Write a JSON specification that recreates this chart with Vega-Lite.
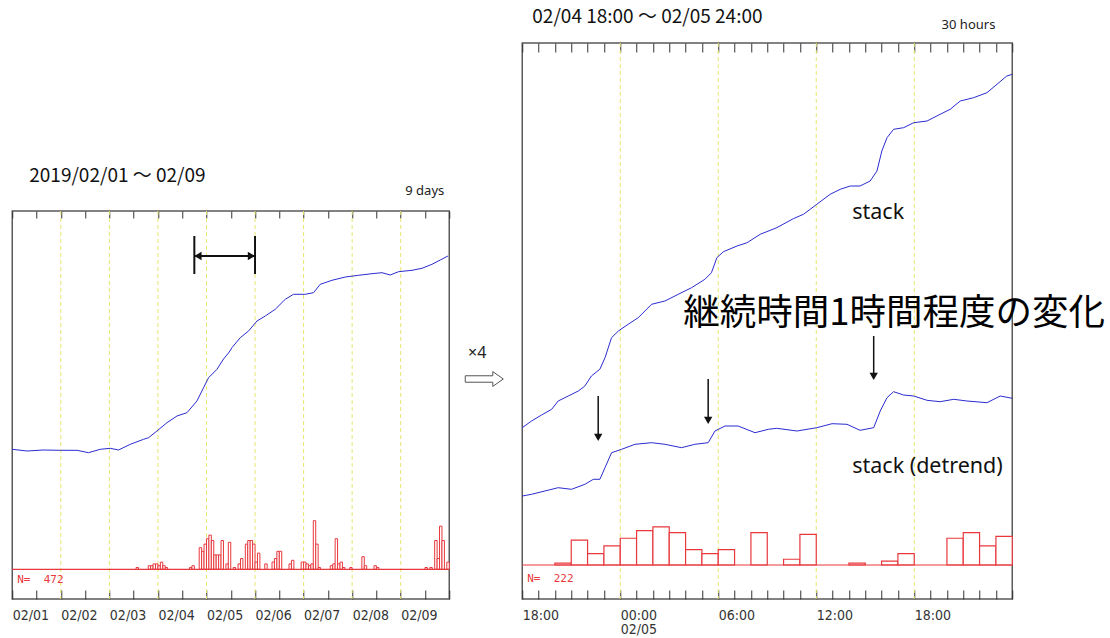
{
  "$schema": "https://vega.github.io/schema/vega-lite/v6.json",
  "background": "white",
  "padding": {"left": 9.25, "top": 7, "right": 0, "bottom": 0},
  "spacing": 13,
  "config": {
    "view": {"stroke": "#5a5a5a", "strokeWidth": 1.5}
  },
  "datasets": {
    "leftStack": [
      {"t": "2019-02-01T00:00", "v": 149.7}, {"t": "2019-02-01T07:16", "v": 148}, {"t": "2019-02-01T15:19", "v": 149},
      {"t": "2019-02-01T23:44", "v": 148.7}, {"t": "2019-02-02T07:59", "v": 148.7}, {"t": "2019-02-02T13:43", "v": 146.3},
      {"t": "2019-02-02T19:30", "v": 149.7}, {"t": "2019-02-03T00:26", "v": 150.7}, {"t": "2019-02-03T04:32", "v": 149},
      {"t": "2019-02-03T10:20", "v": 154.7}, {"t": "2019-02-03T16:54", "v": 159.7}, {"t": "2019-02-03T19:22", "v": 161.3},
      {"t": "2019-02-03T23:31", "v": 168}, {"t": "2019-02-04T04:28", "v": 176.3}, {"t": "2019-02-04T09:25", "v": 183},
      {"t": "2019-02-04T14:21", "v": 186.3}, {"t": "2019-02-04T19:17", "v": 198}, {"t": "2019-02-04T22:34", "v": 211.3},
      {"t": "2019-02-05T01:02", "v": 221.3}, {"t": "2019-02-05T05:11", "v": 229.7}, {"t": "2019-02-05T08:26", "v": 240},
      {"t": "2019-02-05T11:16", "v": 247}, {"t": "2019-02-05T12:35", "v": 251.3}, {"t": "2019-02-05T16:42", "v": 261.3},
      {"t": "2019-02-05T20:48", "v": 268}, {"t": "2019-02-06T00:57", "v": 278}, {"t": "2019-02-06T05:03", "v": 283},
      {"t": "2019-02-06T09:59", "v": 289.7}, {"t": "2019-02-06T14:56", "v": 299.7}, {"t": "2019-02-06T19:02", "v": 304.7},
      {"t": "2019-02-07T00:49", "v": 304.7}, {"t": "2019-02-07T04:56", "v": 306.3}, {"t": "2019-02-07T08:14", "v": 314.7},
      {"t": "2019-02-07T14:01", "v": 318.7}, {"t": "2019-02-07T20:36", "v": 322}, {"t": "2019-02-08T03:10", "v": 323.7},
      {"t": "2019-02-08T09:47", "v": 325.3}, {"t": "2019-02-08T14:44", "v": 326.3}, {"t": "2019-02-08T18:50", "v": 324},
      {"t": "2019-02-08T22:56", "v": 327.3}, {"t": "2019-02-09T05:34", "v": 328.7}, {"t": "2019-02-09T10:31", "v": 330.7},
      {"t": "2019-02-09T15:27", "v": 334.7}, {"t": "2019-02-09T19:33", "v": 339}, {"t": "2019-02-09T23:22", "v": 343}
    ],
    "leftHist": [
      {"t": "2019-02-03T13:12", "t2": "2019-02-03T14:24", "count": 1},
      {"t": "2019-02-03T19:12", "t2": "2019-02-03T20:24", "count": 2},
      {"t": "2019-02-03T20:24", "t2": "2019-02-03T21:36", "count": 2},
      {"t": "2019-02-03T21:36", "t2": "2019-02-03T22:48", "count": 3},
      {"t": "2019-02-03T22:48", "t2": "2019-02-04T00:00", "count": 3},
      {"t": "2019-02-04T00:00", "t2": "2019-02-04T01:12", "count": 2},
      {"t": "2019-02-04T01:12", "t2": "2019-02-04T02:24", "count": 4},
      {"t": "2019-02-04T02:24", "t2": "2019-02-04T03:36", "count": 2},
      {"t": "2019-02-04T03:36", "t2": "2019-02-04T04:48", "count": 1},
      {"t": "2019-02-04T15:36", "t2": "2019-02-04T16:48", "count": 1},
      {"t": "2019-02-04T16:48", "t2": "2019-02-04T18:00", "count": 2},
      {"t": "2019-02-04T20:24", "t2": "2019-02-04T21:36", "count": 12},
      {"t": "2019-02-04T21:36", "t2": "2019-02-04T22:48", "count": 10},
      {"t": "2019-02-04T22:48", "t2": "2019-02-05T00:00", "count": 14},
      {"t": "2019-02-05T00:00", "t2": "2019-02-05T01:12", "count": 17},
      {"t": "2019-02-05T01:12", "t2": "2019-02-05T02:24", "count": 19},
      {"t": "2019-02-05T02:24", "t2": "2019-02-05T03:36", "count": 16},
      {"t": "2019-02-05T03:36", "t2": "2019-02-05T04:48", "count": 8},
      {"t": "2019-02-05T04:48", "t2": "2019-02-05T06:00", "count": 8},
      {"t": "2019-02-05T06:00", "t2": "2019-02-05T07:12", "count": 8},
      {"t": "2019-02-05T07:12", "t2": "2019-02-05T08:24", "count": 16},
      {"t": "2019-02-05T09:36", "t2": "2019-02-05T10:48", "count": 3},
      {"t": "2019-02-05T10:48", "t2": "2019-02-05T12:00", "count": 15},
      {"t": "2019-02-05T13:12", "t2": "2019-02-05T14:24", "count": 1},
      {"t": "2019-02-05T15:36", "t2": "2019-02-05T16:48", "count": 3},
      {"t": "2019-02-05T16:48", "t2": "2019-02-05T18:00", "count": 6},
      {"t": "2019-02-05T19:12", "t2": "2019-02-05T20:24", "count": 14},
      {"t": "2019-02-05T20:24", "t2": "2019-02-05T21:36", "count": 16},
      {"t": "2019-02-05T21:36", "t2": "2019-02-05T22:48", "count": 16},
      {"t": "2019-02-05T22:48", "t2": "2019-02-06T00:00", "count": 14},
      {"t": "2019-02-06T00:00", "t2": "2019-02-06T01:12", "count": 4},
      {"t": "2019-02-06T01:12", "t2": "2019-02-06T02:24", "count": 9},
      {"t": "2019-02-06T04:48", "t2": "2019-02-06T06:00", "count": 3},
      {"t": "2019-02-06T08:24", "t2": "2019-02-06T09:36", "count": 4},
      {"t": "2019-02-06T09:36", "t2": "2019-02-06T10:48", "count": 6},
      {"t": "2019-02-06T10:48", "t2": "2019-02-06T12:00", "count": 10},
      {"t": "2019-02-06T12:00", "t2": "2019-02-06T13:12", "count": 10},
      {"t": "2019-02-06T16:48", "t2": "2019-02-06T18:00", "count": 3},
      {"t": "2019-02-06T18:00", "t2": "2019-02-06T19:12", "count": 5},
      {"t": "2019-02-06T22:48", "t2": "2019-02-07T00:00", "count": 4},
      {"t": "2019-02-07T00:00", "t2": "2019-02-07T01:12", "count": 4},
      {"t": "2019-02-07T01:12", "t2": "2019-02-07T02:24", "count": 3},
      {"t": "2019-02-07T02:24", "t2": "2019-02-07T03:36", "count": 2},
      {"t": "2019-02-07T03:36", "t2": "2019-02-07T04:48", "count": 3},
      {"t": "2019-02-07T04:48", "t2": "2019-02-07T06:00", "count": 27},
      {"t": "2019-02-07T06:00", "t2": "2019-02-07T07:12", "count": 14},
      {"t": "2019-02-07T07:12", "t2": "2019-02-07T08:24", "count": 1},
      {"t": "2019-02-07T13:12", "t2": "2019-02-07T14:24", "count": 2},
      {"t": "2019-02-07T14:24", "t2": "2019-02-07T15:36", "count": 3},
      {"t": "2019-02-07T15:36", "t2": "2019-02-07T16:48", "count": 17},
      {"t": "2019-02-07T16:48", "t2": "2019-02-07T18:00", "count": 3},
      {"t": "2019-02-07T18:00", "t2": "2019-02-07T19:12", "count": 4},
      {"t": "2019-02-07T19:12", "t2": "2019-02-07T20:24", "count": 1},
      {"t": "2019-02-07T22:48", "t2": "2019-02-08T00:00", "count": 1},
      {"t": "2019-02-08T04:48", "t2": "2019-02-08T06:00", "count": 7},
      {"t": "2019-02-08T06:00", "t2": "2019-02-08T07:12", "count": 2},
      {"t": "2019-02-08T10:48", "t2": "2019-02-08T12:00", "count": 2},
      {"t": "2019-02-08T12:00", "t2": "2019-02-08T13:12", "count": 1},
      {"t": "2019-02-09T12:00", "t2": "2019-02-09T13:12", "count": 1},
      {"t": "2019-02-09T14:24", "t2": "2019-02-09T15:36", "count": 1},
      {"t": "2019-02-09T16:48", "t2": "2019-02-09T18:00", "count": 16},
      {"t": "2019-02-09T18:00", "t2": "2019-02-09T19:12", "count": 6},
      {"t": "2019-02-09T19:12", "t2": "2019-02-09T20:24", "count": 24},
      {"t": "2019-02-09T20:24", "t2": "2019-02-09T21:36", "count": 16},
      {"t": "2019-02-09T22:48", "t2": "2019-02-10T00:00", "count": 4}
    ],
    "leftDays": [
      {"t": "2019-02-02T00:00"}, {"t": "2019-02-03T00:00"}, {"t": "2019-02-04T00:00"}, {"t": "2019-02-05T00:00"},
      {"t": "2019-02-06T00:00"}, {"t": "2019-02-07T00:00"}, {"t": "2019-02-08T00:00"}, {"t": "2019-02-09T00:00"}
    ],
    "leftSegs": [
      {"t": "2019-02-04T18:00", "t2": "2019-02-04T18:00", "v": 325, "v2": 363},
      {"t": "2019-02-06T00:00", "t2": "2019-02-06T00:00", "v": 325, "v2": 363},
      {"t": "2019-02-04T18:00", "t2": "2019-02-06T00:00", "v": 343, "v2": 343}
    ],
    "leftHeads": [
      {"t": "2019-02-04T19:47", "v": 343, "dir": "left"},
      {"t": "2019-02-05T22:13", "v": 343, "dir": "right"}
    ],
    "rightStack": [
      {"series": "stack", "t": "2019-02-04T18:00", "v": 171.3}, {"series": "stack", "t": "2019-02-04T18:34", "v": 178},
      {"series": "stack", "t": "2019-02-04T19:11", "v": 184}, {"series": "stack", "t": "2019-02-04T19:48", "v": 189.7},
      {"series": "stack", "t": "2019-02-04T20:12", "v": 198}, {"series": "stack", "t": "2019-02-04T20:49", "v": 203},
      {"series": "stack", "t": "2019-02-04T21:26", "v": 208}, {"series": "stack", "t": "2019-02-04T21:50", "v": 213},
      {"series": "stack", "t": "2019-02-04T22:14", "v": 223}, {"series": "stack", "t": "2019-02-04T22:45", "v": 229.7},
      {"series": "stack", "t": "2019-02-04T23:04", "v": 241.3}, {"series": "stack", "t": "2019-02-04T23:28", "v": 261.3},
      {"series": "stack", "t": "2019-02-04T23:53", "v": 268}, {"series": "stack", "t": "2019-02-05T00:29", "v": 274.7},
      {"series": "stack", "t": "2019-02-05T01:06", "v": 281.3}, {"series": "stack", "t": "2019-02-05T01:55", "v": 294.7},
      {"series": "stack", "t": "2019-02-05T02:44", "v": 298}, {"series": "stack", "t": "2019-02-05T03:33", "v": 304.7},
      {"series": "stack", "t": "2019-02-05T04:22", "v": 311.3}, {"series": "stack", "t": "2019-02-05T05:11", "v": 319.7},
      {"series": "stack", "t": "2019-02-05T05:35", "v": 326.3}, {"series": "stack", "t": "2019-02-05T05:55", "v": 341.3},
      {"series": "stack", "t": "2019-02-05T06:19", "v": 347.3}, {"series": "stack", "t": "2019-02-05T07:09", "v": 353},
      {"series": "stack", "t": "2019-02-05T07:46", "v": 356.3}, {"series": "stack", "t": "2019-02-05T08:34", "v": 364.7},
      {"series": "stack", "t": "2019-02-05T09:35", "v": 371.3}, {"series": "stack", "t": "2019-02-05T10:37", "v": 380.5},
      {"series": "stack", "t": "2019-02-05T11:13", "v": 384.7}, {"series": "stack", "t": "2019-02-05T12:02", "v": 394.7},
      {"series": "stack", "t": "2019-02-05T12:51", "v": 404.7}, {"series": "stack", "t": "2019-02-05T13:28", "v": 409.7},
      {"series": "stack", "t": "2019-02-05T14:05", "v": 413}, {"series": "stack", "t": "2019-02-05T14:41", "v": 413},
      {"series": "stack", "t": "2019-02-05T15:18", "v": 418}, {"series": "stack", "t": "2019-02-05T15:43", "v": 428},
      {"series": "stack", "t": "2019-02-05T16:01", "v": 448}, {"series": "stack", "t": "2019-02-05T16:20", "v": 461.3},
      {"series": "stack", "t": "2019-02-05T16:44", "v": 469.7}, {"series": "stack", "t": "2019-02-05T17:21", "v": 471.3},
      {"series": "stack", "t": "2019-02-05T17:58", "v": 476.3}, {"series": "stack", "t": "2019-02-05T18:47", "v": 478},
      {"series": "stack", "t": "2019-02-05T19:35", "v": 484.7}, {"series": "stack", "t": "2019-02-05T20:12", "v": 489.7},
      {"series": "stack", "t": "2019-02-05T20:49", "v": 498}, {"series": "stack", "t": "2019-02-05T21:38", "v": 501.3},
      {"series": "stack", "t": "2019-02-05T22:27", "v": 506.3}, {"series": "stack", "t": "2019-02-05T23:04", "v": 514.7},
      {"series": "stack", "t": "2019-02-05T23:40", "v": 523}, {"series": "stack", "t": "2019-02-06T00:00", "v": 524.7},
      {"series": "detrend", "t": "2019-02-04T18:00", "v": 103}, {"series": "detrend", "t": "2019-02-04T18:34", "v": 104.7},
      {"series": "detrend", "t": "2019-02-04T19:23", "v": 108}, {"series": "detrend", "t": "2019-02-04T20:12", "v": 111.3},
      {"series": "detrend", "t": "2019-02-04T21:01", "v": 109.7}, {"series": "detrend", "t": "2019-02-04T21:50", "v": 114.7},
      {"series": "detrend", "t": "2019-02-04T22:21", "v": 119.7}, {"series": "detrend", "t": "2019-02-04T22:45", "v": 119.7},
      {"series": "detrend", "t": "2019-02-04T23:04", "v": 131.3}, {"series": "detrend", "t": "2019-02-04T23:28", "v": 146.3},
      {"series": "detrend", "t": "2019-02-05T00:05", "v": 149.7}, {"series": "detrend", "t": "2019-02-05T00:54", "v": 154.7},
      {"series": "detrend", "t": "2019-02-05T01:55", "v": 156.3}, {"series": "detrend", "t": "2019-02-05T02:44", "v": 154.7},
      {"series": "detrend", "t": "2019-02-05T03:45", "v": 151.3}, {"series": "detrend", "t": "2019-02-05T04:34", "v": 154.7},
      {"series": "detrend", "t": "2019-02-05T05:23", "v": 156.3}, {"series": "detrend", "t": "2019-02-05T05:48", "v": 168},
      {"series": "detrend", "t": "2019-02-05T06:25", "v": 173}, {"series": "detrend", "t": "2019-02-05T07:13", "v": 173},
      {"series": "detrend", "t": "2019-02-05T08:15", "v": 166.3}, {"series": "detrend", "t": "2019-02-05T09:04", "v": 169.7},
      {"series": "detrend", "t": "2019-02-05T09:35", "v": 170.7}, {"series": "detrend", "t": "2019-02-05T10:49", "v": 168},
      {"series": "detrend", "t": "2019-02-05T12:02", "v": 171.3}, {"series": "detrend", "t": "2019-02-05T12:58", "v": 175.3},
      {"series": "detrend", "t": "2019-02-05T13:53", "v": 174.7}, {"series": "detrend", "t": "2019-02-05T14:41", "v": 168.7},
      {"series": "detrend", "t": "2019-02-05T15:31", "v": 171.3}, {"series": "detrend", "t": "2019-02-05T15:55", "v": 188},
      {"series": "detrend", "t": "2019-02-05T16:20", "v": 201.3}, {"series": "detrend", "t": "2019-02-05T16:44", "v": 207.3},
      {"series": "detrend", "t": "2019-02-05T17:21", "v": 204}, {"series": "detrend", "t": "2019-02-05T17:58", "v": 203},
      {"series": "detrend", "t": "2019-02-05T18:47", "v": 198.7}, {"series": "detrend", "t": "2019-02-05T19:35", "v": 197.3},
      {"series": "detrend", "t": "2019-02-05T20:25", "v": 199.7}, {"series": "detrend", "t": "2019-02-05T21:14", "v": 198},
      {"series": "detrend", "t": "2019-02-05T22:27", "v": 196.3}, {"series": "detrend", "t": "2019-02-05T23:16", "v": 203},
      {"series": "detrend", "t": "2019-02-06T00:00", "v": 200.7}
    ],
    "rightHist": [
      {"t": "2019-02-04T20:00", "t2": "2019-02-04T21:00", "count": 1},
      {"t": "2019-02-04T21:00", "t2": "2019-02-04T22:00", "count": 13},
      {"t": "2019-02-04T22:00", "t2": "2019-02-04T23:00", "count": 6},
      {"t": "2019-02-04T23:00", "t2": "2019-02-05T00:00", "count": 10},
      {"t": "2019-02-05T00:00", "t2": "2019-02-05T01:00", "count": 14},
      {"t": "2019-02-05T01:00", "t2": "2019-02-05T02:00", "count": 18},
      {"t": "2019-02-05T02:00", "t2": "2019-02-05T03:00", "count": 20},
      {"t": "2019-02-05T03:00", "t2": "2019-02-05T04:00", "count": 17},
      {"t": "2019-02-05T04:00", "t2": "2019-02-05T05:00", "count": 8},
      {"t": "2019-02-05T05:00", "t2": "2019-02-05T06:00", "count": 6},
      {"t": "2019-02-05T06:00", "t2": "2019-02-05T07:00", "count": 8},
      {"t": "2019-02-05T08:00", "t2": "2019-02-05T09:00", "count": 17},
      {"t": "2019-02-05T10:00", "t2": "2019-02-05T11:00", "count": 3},
      {"t": "2019-02-05T11:00", "t2": "2019-02-05T12:00", "count": 16},
      {"t": "2019-02-05T14:00", "t2": "2019-02-05T15:00", "count": 1},
      {"t": "2019-02-05T16:00", "t2": "2019-02-05T17:00", "count": 2},
      {"t": "2019-02-05T17:00", "t2": "2019-02-05T18:00", "count": 6},
      {"t": "2019-02-05T20:00", "t2": "2019-02-05T21:00", "count": 14},
      {"t": "2019-02-05T21:00", "t2": "2019-02-05T22:00", "count": 17},
      {"t": "2019-02-05T22:00", "t2": "2019-02-05T23:00", "count": 10},
      {"t": "2019-02-05T23:00", "t2": "2019-02-06T00:00", "count": 15}
    ],
    "rightHours": [
      {"t": "2019-02-05T00:00"}, {"t": "2019-02-05T06:00"}, {"t": "2019-02-05T12:00"}, {"t": "2019-02-05T18:00"}
    ],
    "rightArrows": [
      {"t": "2019-02-04T22:39", "v": 203, "v2": 163, "tip": 161.6},
      {"t": "2019-02-05T05:23", "v": 220, "v2": 180, "tip": 178.6},
      {"t": "2019-02-05T15:31", "v": 263, "v2": 224, "tip": 222.6}
    ]
  },
  "hconcat": [
    {
      "spacing": 0,
      "bounds": "flush",
      "vconcat": [
        {
          "width": 437,
          "height": 168,
          "view": {"stroke": null},
          "data": {"values": [{}]},
          "mark": "text",
          "encoding": {"text": {"value": ""}}
        },
        {
          "width": 437,
          "height": 388,
          "resolve": {"scale": {"y": "independent"}, "axis": {"x": "independent"}},
          "layer": [
            {
              "data": {"name": "leftDays"},
              "mark": {"type": "rule", "color": "#e6e66e", "strokeDash": [4, 3], "strokeWidth": 1},
              "encoding": {
                "x": {
                  "field": "t", "type": "temporal",
                  "scale": {"domain": [{"year": 2019, "month": 2, "date": 1}, {"year": 2019, "month": 2, "date": 10}]},
                  "axis": {
                    "orient": "bottom", "title": null, "grid": false, "domain": false,
                    "tickCount": 18,
                    "tickSize": -9, "tickColor": "#333333", "tickWidth": 1,
                    "labelPadding": 18, "labelAlign": "left", "labelBaseline": "top", "labelAngle": 0,
                    "labelFont": "Liberation Sans Narrow, DejaVu Sans Condensed, DejaVu Sans", "labelFontSize": 14, "labelColor": "#333333",
                    "labelOverlap": false, "labelFlush": false, "labelBound": false,
                    "labelExpr": "hours(datum.value) == 0 && datum.value < datetime(2019, 1, 10) ? timeFormat(datum.value, '%m/%d') : ''"
                  }
                }
              }
            },
            {
              "data": {"name": "leftHist"},
              "mark": {"type": "bar", "fill": "white", "stroke": "#e8383d", "strokeWidth": 1},
              "encoding": {
                "x": {
                  "field": "t", "type": "temporal",
                  "scale": {"domain": [{"year": 2019, "month": 2, "date": 1}, {"year": 2019, "month": 2, "date": 10}]},
                  "axis": {
                    "orient": "top", "title": null, "grid": false, "domain": false, "labels": false,
                    "tickCount": 18,
                    "tickSize": -7, "tickColor": "#333333", "tickWidth": 1
                  }
                },
                "x2": {"field": "t2"},
                "y": {"field": "count", "type": "quantitative", "scale": {"domain": [-16.5, 199.1]}, "axis": null},
                "y2": {"datum": 0}
              }
            },
            {
              "data": {"values": [{}]},
              "mark": {"type": "rule", "color": "#e8383d", "strokeWidth": 1.2},
              "encoding": {
                "y": {"datum": 0, "type": "quantitative", "scale": {"domain": [-16.5, 199.1]}, "axis": null}
              }
            },
            {
              "data": {"values": [{"t": "2019-02-01T02:28", "count": -5.9, "label": "N=\u00a0\u00a0472"}]},
              "mark": {"type": "text", "align": "left", "baseline": "middle", "font": "DejaVu Sans Mono", "fontSize": 11, "color": "#e8383d"},
              "encoding": {
                "x": {"field": "t", "type": "temporal", "scale": {"domain": [{"year": 2019, "month": 2, "date": 1}, {"year": 2019, "month": 2, "date": 10}]}, "axis": null},
                "y": {"field": "count", "type": "quantitative", "scale": {"domain": [-16.5, 199.1]}, "axis": null},
                "text": {"field": "label"}
              }
            },
            {
              "data": {"name": "leftStack"},
              "mark": {"type": "line", "color": "#2b2bd0", "strokeWidth": 1},
              "encoding": {
                "x": {"field": "t", "type": "temporal", "scale": {"domain": [{"year": 2019, "month": 2, "date": 1}, {"year": 2019, "month": 2, "date": 10}]}, "axis": null},
                "y": {"field": "v", "type": "quantitative", "scale": {"domain": [0, 388]}, "axis": null}
              }
            },
            {
              "data": {"name": "leftSegs"},
              "mark": {"type": "rule", "color": "#111111", "strokeWidth": 2},
              "encoding": {
                "x": {"field": "t", "type": "temporal", "scale": {"domain": [{"year": 2019, "month": 2, "date": 1}, {"year": 2019, "month": 2, "date": 10}]}, "axis": null},
                "x2": {"field": "t2"},
                "y": {"field": "v", "type": "quantitative", "scale": {"domain": [0, 388]}, "axis": null},
                "y2": {"field": "v2"}
              }
            },
            {
              "data": {"name": "leftHeads"},
              "mark": {"type": "point", "filled": true, "color": "#111111", "size": 70, "opacity": 1},
              "encoding": {
                "x": {"field": "t", "type": "temporal", "scale": {"domain": [{"year": 2019, "month": 2, "date": 1}, {"year": 2019, "month": 2, "date": 10}]}, "axis": null},
                "y": {"field": "v", "type": "quantitative", "scale": {"domain": [0, 388]}, "axis": null},
                "shape": {"field": "dir", "type": "nominal", "scale": {"domain": ["left", "right"], "range": ["triangle-left", "triangle-right"]}, "legend": null}
              }
            },
            {
              "data": {"values": [{"t": "2019-02-01T08:24", "v": 423, "label": "2019/02/01 ～ 02/09"}]},
              "mark": {"type": "text", "align": "left", "baseline": "middle", "font": "Noto Sans CJK JP", "fontSize": 19, "color": "#111111"},
              "encoding": {
                "x": {"field": "t", "type": "temporal", "scale": {"domain": [{"year": 2019, "month": 2, "date": 1}, {"year": 2019, "month": 2, "date": 10}]}, "axis": null},
                "y": {"field": "v", "type": "quantitative", "scale": {"domain": [0, 388]}, "axis": null},
                "text": {"field": "label"}
              }
            },
            {
              "data": {"values": [{"t": "2019-02-09T21:32", "v": 408, "label": "9 days"}]},
              "mark": {"type": "text", "align": "right", "baseline": "middle", "font": "Noto Sans", "fontSize": 13, "color": "#222222"},
              "encoding": {
                "x": {"field": "t", "type": "temporal", "scale": {"domain": [{"year": 2019, "month": 2, "date": 1}, {"year": 2019, "month": 2, "date": 10}]}, "axis": null},
                "y": {"field": "v", "type": "quantitative", "scale": {"domain": [0, 388]}, "axis": null},
                "text": {"field": "label"}
              }
            },
            {
              "data": {"values": [{"t": "2019-02-10T13:51", "v": 246, "label": "×4"}]},
              "mark": {"type": "text", "align": "center", "baseline": "middle", "font": "Noto Sans", "fontSize": 16, "color": "#222222"},
              "encoding": {
                "x": {"field": "t", "type": "temporal", "scale": {"domain": [{"year": 2019, "month": 2, "date": 1}, {"year": 2019, "month": 2, "date": 10}]}, "axis": null},
                "y": {"field": "v", "type": "quantitative", "scale": {"domain": [0, 388]}, "axis": null},
                "text": {"field": "label"}
              }
            },
            {
              "data": {"values": [{"t": "2019-02-10T17:18", "v": 220}]},
              "mark": {"type": "point", "shape": "M-1,-0.17L0.45,-0.17L0.45,-0.39L1,0L0.45,0.39L0.45,0.17L-1,0.17Z", "size": 1444, "filled": false, "fill": "white", "stroke": "#555555", "strokeWidth": 1, "opacity": 1},
              "encoding": {
                "x": {"field": "t", "type": "temporal", "scale": {"domain": [{"year": 2019, "month": 2, "date": 1}, {"year": 2019, "month": 2, "date": 10}]}, "axis": null},
                "y": {"field": "v", "type": "quantitative", "scale": {"domain": [0, 388]}, "axis": null}
              }
            }
          ]
        }
      ]
    },
    {
      "width": 490,
      "height": 556,
      "resolve": {"scale": {"y": "independent"}, "axis": {"x": "independent"}},
      "layer": [
        {
          "data": {"name": "rightHours"},
          "mark": {"type": "rule", "color": "#e6e66e", "strokeDash": [4, 3], "strokeWidth": 1},
          "encoding": {
            "x": {
              "field": "t", "type": "temporal",
              "scale": {"domain": [{"year": 2019, "month": 2, "date": 4, "hours": 18}, {"year": 2019, "month": 2, "date": 6}]},
              "axis": {
                "orient": "bottom", "title": null, "grid": false, "domain": false,
                "tickCount": 30,
                "tickSize": -9, "tickColor": "#333333", "tickWidth": 1,
                "labelPadding": 18, "labelAlign": "left", "labelBaseline": "top", "labelAngle": 0, "labelLineHeight": 14,
                "labelFont": "Liberation Sans Narrow, DejaVu Sans Condensed, DejaVu Sans", "labelFontSize": 14, "labelColor": "#333333",
                "labelOverlap": false, "labelFlush": false, "labelBound": false,
                "labelExpr": "(datum.value >= datetime(2019, 1, 6) || hours(datum.value) % 6 != 0) ? '' : (hours(datum.value) == 0 ? ['00:00', '02/05'] : timeFormat(datum.value, '%H:%M'))"
              }
            }
          }
        },
        {
          "data": {"name": "rightHist"},
          "mark": {"type": "bar", "fill": "white", "stroke": "#e8383d", "strokeWidth": 1.2},
          "encoding": {
            "x": {
              "field": "t", "type": "temporal",
              "scale": {"domain": [{"year": 2019, "month": 2, "date": 4, "hours": 18}, {"year": 2019, "month": 2, "date": 6}]},
              "axis": {
                "orient": "top", "title": null, "grid": false, "domain": false, "labels": false,
                "tickCount": 30,
                "tickSize": -9, "tickColor": "#333333", "tickWidth": 1
              }
            },
            "x2": {"field": "t2"},
            "y": {"field": "count", "type": "quantitative", "scale": {"domain": [-17.8, 273.3]}, "axis": null},
            "y2": {"datum": 0}
          }
        },
        {
          "data": {"values": [{}]},
          "mark": {"type": "rule", "color": "#e8383d", "strokeWidth": 1.2},
          "encoding": {
            "y": {"datum": 0, "type": "quantitative", "scale": {"domain": [-17.8, 273.3]}, "axis": null}
          }
        },
        {
          "data": {"values": [{"t": "2019-02-04T18:18", "count": -7.3, "label": "N=\u00a0\u00a0222"}]},
          "mark": {"type": "text", "align": "left", "baseline": "middle", "font": "DejaVu Sans Mono", "fontSize": 11, "color": "#e8383d"},
          "encoding": {
            "x": {"field": "t", "type": "temporal", "scale": {"domain": [{"year": 2019, "month": 2, "date": 4, "hours": 18}, {"year": 2019, "month": 2, "date": 6}]}, "axis": null},
            "y": {"field": "count", "type": "quantitative", "scale": {"domain": [-17.8, 273.3]}, "axis": null},
            "text": {"field": "label"}
          }
        },
        {
          "data": {"name": "rightStack"},
          "mark": {"type": "line", "color": "#2b2bd0", "strokeWidth": 1},
          "encoding": {
            "x": {"field": "t", "type": "temporal", "scale": {"domain": [{"year": 2019, "month": 2, "date": 4, "hours": 18}, {"year": 2019, "month": 2, "date": 6}]}, "axis": null},
            "y": {"field": "v", "type": "quantitative", "scale": {"domain": [0, 556]}, "axis": null},
            "detail": {"field": "series", "type": "nominal"}
          }
        },
        {
          "data": {"name": "rightArrows"},
          "mark": {"type": "rule", "color": "#111111", "strokeWidth": 1.5},
          "encoding": {
            "x": {"field": "t", "type": "temporal", "scale": {"domain": [{"year": 2019, "month": 2, "date": 4, "hours": 18}, {"year": 2019, "month": 2, "date": 6}]}, "axis": null},
            "y": {"field": "v", "type": "quantitative", "scale": {"domain": [0, 556]}, "axis": null},
            "y2": {"field": "v2"}
          }
        },
        {
          "data": {"name": "rightArrows"},
          "mark": {"type": "point", "shape": "triangle-down", "filled": true, "color": "#111111", "size": 70, "opacity": 1},
          "encoding": {
            "x": {"field": "t", "type": "temporal", "scale": {"domain": [{"year": 2019, "month": 2, "date": 4, "hours": 18}, {"year": 2019, "month": 2, "date": 6}]}, "axis": null},
            "y": {"field": "tip", "type": "quantitative", "scale": {"domain": [0, 556]}, "axis": null}
          }
        },
        {
          "data": {"values": [{"t": "2019-02-05T14:12", "v": 380, "label": "stack"}, {"t": "2019-02-05T14:12", "v": 126.3, "label": "stack (detrend)"}]},
          "mark": {"type": "text", "align": "left", "baseline": "alphabetic", "font": "Noto Sans", "fontSize": 21.5, "color": "#111111"},
          "encoding": {
            "x": {"field": "t", "type": "temporal", "scale": {"domain": [{"year": 2019, "month": 2, "date": 4, "hours": 18}, {"year": 2019, "month": 2, "date": 6}]}, "axis": null},
            "y": {"field": "v", "type": "quantitative", "scale": {"domain": [0, 556]}, "axis": null},
            "text": {"field": "label"}
          }
        },
        {
          "data": {"values": [{"t": "2019-02-05T03:51", "v": 285, "label": "継続時間1時間程度の変化"}]},
          "mark": {"type": "text", "align": "left", "baseline": "middle", "font": "Noto Sans CJK JP", "fontSize": 36.5, "color": "#000000"},
          "encoding": {
            "x": {"field": "t", "type": "temporal", "scale": {"domain": [{"year": 2019, "month": 2, "date": 4, "hours": 18}, {"year": 2019, "month": 2, "date": 6}]}, "axis": null},
            "y": {"field": "v", "type": "quantitative", "scale": {"domain": [0, 556]}, "axis": null},
            "text": {"field": "label"}
          }
        },
        {
          "data": {"values": [{"t": "2019-02-04T18:37", "v": 582, "label": "02/04 18:00 ～ 02/05 24:00"}]},
          "mark": {"type": "text", "align": "left", "baseline": "middle", "font": "Noto Sans CJK JP", "fontSize": 19, "color": "#111111"},
          "encoding": {
            "x": {"field": "t", "type": "temporal", "scale": {"domain": [{"year": 2019, "month": 2, "date": 4, "hours": 18}, {"year": 2019, "month": 2, "date": 6}]}, "axis": null},
            "y": {"field": "v", "type": "quantitative", "scale": {"domain": [0, 556]}, "axis": null},
            "text": {"field": "label"}
          }
        },
        {
          "data": {"values": [{"t": "2019-02-05T22:58", "v": 574, "label": "30 hours"}]},
          "mark": {"type": "text", "align": "right", "baseline": "middle", "font": "Noto Sans", "fontSize": 13, "color": "#222222"},
          "encoding": {
            "x": {"field": "t", "type": "temporal", "scale": {"domain": [{"year": 2019, "month": 2, "date": 4, "hours": 18}, {"year": 2019, "month": 2, "date": 6}]}, "axis": null},
            "y": {"field": "v", "type": "quantitative", "scale": {"domain": [0, 556]}, "axis": null},
            "text": {"field": "label"}
          }
        }
      ]
    }
  ]
}
